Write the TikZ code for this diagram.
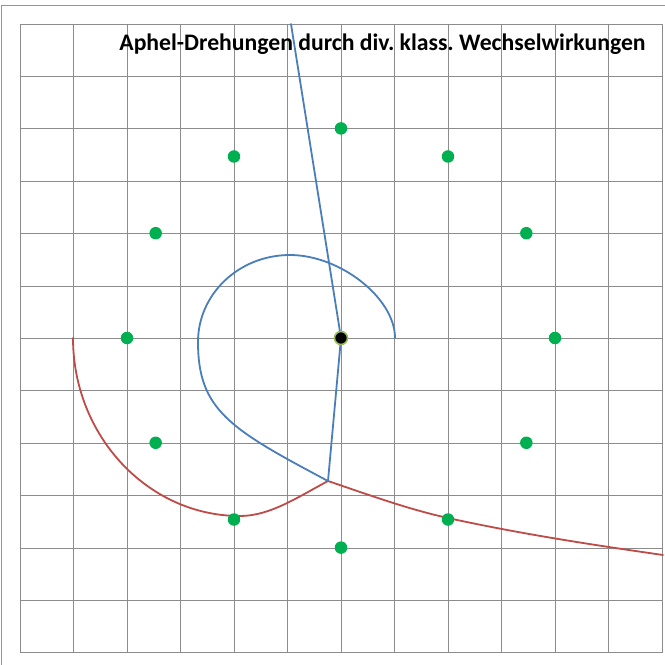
\documentclass[tikz,border=0pt]{standalone}
\usepackage{fontspec}
\setmainfont{Carlito}
\definecolor{gridc}{RGB}{140,140,140}
\definecolor{framec}{RGB}{150,150,150}
\definecolor{bluec}{RGB}{74,126,187}
\definecolor{redc}{RGB}{190,75,72}
\definecolor{dotc}{RGB}{0,176,80}
\definecolor{rimc}{RGB}{155,187,89}
\begin{document}
\frenchspacing
\begin{tikzpicture}[x=1pt,y=-1pt,
  gridline/.style={draw=gridc,line width=1pt},
  framel/.style={draw=framec,line width=1.6pt},
  orbitblue/.style={draw=bluec,line width=1.8pt,line join=round,line cap=round},
  orbitred/.style={draw=redc,line width=1.8pt,line join=round,line cap=round},
  gdot/.style={circle,fill=dotc,inner sep=0pt,minimum size=12.5pt},
  cdot/.style={circle,fill=black,draw=rimc,line width=1.6pt,inner sep=0pt,minimum size=13pt},
  titletext/.style={font=\bfseries\fontsize{23.7}{28}\selectfont,inner sep=0pt,anchor=base}]
\useasboundingbox (0,0) rectangle (665,665);
\fill[white] (0,0) rectangle (665,665);
% frame
\draw[framel] (1.5,665) -- (1.5,5.5) -- (665,5.5);
% grid
\foreach \k in {0,...,12}{
  \draw[gridline] ({20+53.5*\k},24) -- ({20+53.5*\k},652.8);
  \draw[gridline] (20,{24+52.4*\k}) -- (662,{24+52.4*\k});
}
% title
\node[titletext] (title) at (382.5,50) {Aphel-Drehungen durch div. klass. Wechselwirkungen};
% key points
\coordinate (top) at (291,24);
\coordinate (cusp) at (328,481);
\coordinate (bl) at (198,342);
\coordinate (bt) at (290,255);
\coordinate (bend) at (395,338);
\coordinate (rs) at (73,338);
\coordinate (rb) at (240,516);
\coordinate (rm) at (448,518);
\coordinate (re) at (663,555);
% red orbit
\draw[orbitred] (rs) .. controls (73,436) and (148,516) .. (rb)
  .. controls (270,516) and (298,497) .. (cusp);
\draw[orbitred] (cusp) .. controls (368,494.6) and (408,509.2) .. (rm)
  .. controls (520,533.8) and (591,544.6) .. (re);
% blue orbit
\draw[orbitblue] (top) -- (341,338) -- (cusp);
\draw[orbitblue] (cusp) .. controls (230,429) and (198,410) .. (bl)
  .. controls (198,294) and (239,255) .. (bt)
  .. controls (340,255) and (395,298) .. (bend);
% green dots
\foreach \a [count=\i] in {0,30,...,330}{
  \node[gdot] (g\i) at ({341+4*53.5*cos(\a)},{338-4*52.4*sin(\a)}) {};
}
% centre
\node[cdot] (c) at (341,338) {};
\end{tikzpicture}
\end{document}
